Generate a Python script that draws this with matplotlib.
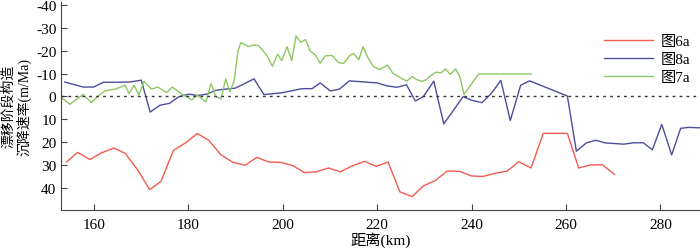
#!/usr/bin/env python3

# imports
import matplotlib
matplotlib.use('Agg')
import matplotlib.pyplot as plt

plt.rcParams['font.family'] = ['Liberation Serif', 'Noto Sans CJK SC']
plt.rcParams['axes.unicode_minus'] = False

# data (distance km, subsidence rate m/Ma)
x_6a = [154.2, 156.5, 159.1, 161.6, 164.2, 166.6, 169.3, 171.8, 174.2, 176.8,
        179.4, 181.9, 184.3, 186.9, 189.5, 192.0, 194.5, 197.0, 199.7, 202.1,
        204.6, 207.1, 209.7, 212.2, 214.7, 217.3, 219.8, 222.3, 224.8, 227.4,
        229.8, 232.3, 234.9, 237.5, 240.0, 242.4, 245.0, 247.5, 250.0, 252.6,
        255.2, 260.3, 262.7, 265.2, 267.7, 270.3]
y_6a = [28.6, 24.4, 27.5, 24.6, 22.5, 24.8, 32.2, 40.7, 37.0, 23.6,
        20.2, 16.2, 19.1, 25.5, 28.8, 30.0, 26.6, 28.6, 28.8, 30.2,
        33.2, 32.9, 31.2, 32.9, 30.3, 28.3, 30.5, 28.6, 41.6, 43.7,
        39.0, 36.7, 32.5, 32.7, 34.7, 34.9, 33.5, 32.6, 28.5, 31.2,
        16.1, 16.1, 31.2, 29.9, 29.8, 34.0]

x_8a = [153.8, 157.7, 159.9, 162.0, 165.5, 167.6, 170.0, 171.9, 174.0, 176.0,
        178.0, 180.1, 181.9, 183.9, 185.8, 187.8, 189.9, 191.9, 193.9, 196.0,
        199.8, 204.1, 206.2, 207.9, 210.1, 212.0, 214.1, 220.0, 222.1, 224.2,
        226.2, 228.1, 229.8, 232.0, 234.1, 238.2, 240.1, 242.2, 244.1, 246.2,
        248.2, 250.4, 252.3, 260.3, 262.2, 264.3, 266.3, 268.4, 272.3, 274.4,
        276.4, 278.3, 280.3, 282.4, 284.3, 286.0, 288.5]
y_8a = [-6.3, -4.1, -4.1, -6.2, -6.2, -6.3, -7.1, 6.8, 3.8, 3.0,
        0.1, -1.0, -0.4, -1.0, -2.7, -3.2, -3.6, -5.6, -7.7, -0.8,
        -1.6, -3.4, -3.4, -5.9, -2.4, -3.2, -6.8, -5.9, -4.6, -4.0,
        -5.1, 2.0, 0.0, -6.7, 12.0, 0.1, 1.7, 2.7, -1.1, -7.0,
        10.5, -4.9, -6.8, -0.2, 23.9, 20.3, 19.1, 20.3, 20.8, 20.2,
        20.2, 23.3, 12.2, 25.5, 13.9, 13.5, 13.7]

x_7a = [153.1, 154.9, 157.7, 159.4, 160.9, 162.3, 164.5, 166.6, 167.4, 168.5,
        169.5, 170.6, 172.2, 173.5, 175.4, 176.6, 178.6, 180.7, 181.8, 183.7,
        184.8, 185.8, 186.9, 187.9, 188.8, 189.7, 190.5, 191.1, 192.7, 193.9,
        194.9, 196.6, 197.8, 198.9, 199.8, 200.9, 201.9, 202.8, 203.8, 204.8,
        205.8, 206.9, 207.9, 209.0, 210.4, 211.8, 212.9, 214.1, 215.0, 216.1,
        217.0, 218.0, 219.2, 220.5, 222.2, 223.3, 224.2, 225.3, 226.3, 227.4,
        228.4, 229.5, 230.4, 231.4, 232.5, 233.5, 234.5, 235.5, 236.6, 237.5,
        238.4, 241.5, 252.6]
y_7a = [0.6, 3.4, -0.9, 2.7, -0.2, -2.4, -3.2, -4.9, -1.3, -4.9,
        -0.6, -6.6, -3.2, -4.1, -1.7, -4.1, -1.0, 1.5, -0.6, 2.3,
        -5.6, 0.1, 1.1, -7.7, -2.0, -7.0, -19.8, -23.5, -21.8, -22.5,
        -22.1, -18.0, -13.1, -18.4, -15.6, -21.7, -15.6, -26.4, -23.7, -24.8,
        -19.8, -18.1, -14.5, -17.7, -17.9, -14.8, -14.4, -17.7, -18.8, -16.0,
        -21.7, -17.0, -13.1, -11.7, -13.7, -10.1, -9.1, -7.7, -6.7, -8.7,
        -7.3, -6.6, -7.3, -9.1, -10.6, -10.3, -12.0, -9.6, -12.0, -8.8,
        -0.9, -9.8, -9.8]

yticks = [-40, -30, -20, -10, 0, 10, 20, 30, 40]
xticks = [160, 180, 200, 220, 240, 260, 280]

fig = plt.figure(figsize=(7.0, 2.51), dpi=100)
ax = fig.add_axes([0.0876, 0.1606, 0.9124, 0.8274])

ax.plot(x_6a, y_6a, color='#f25b4e', lw=1.0, label='图6a')
ax.plot(x_8a, y_8a, color='#4d4d9e', lw=1.0, label='图8a')
ax.plot(x_7a, y_7a, color='#8cc862', lw=1.0, label='图7a')

# zero line
ax.axhline(0, color='#333333', lw=1.0, ls=(0, (2, 3)))

ax.set_xlim(153.07, 288.4)
ax.set_ylim(49.4, -41.2)
ax.set_xticks(xticks)
ax.set_yticks(yticks)
ax.tick_params(direction='in', labelsize=11, length=4, color='#444444')
ax.tick_params(axis='x', pad=6)
for s in ['top', 'right']:
    ax.spines[s].set_visible(False)
for s in ['left', 'bottom']:
    ax.spines[s].set_color('#444444')

ax.set_xlabel('距离(km)', fontsize=11, labelpad=0)
ax.set_ylabel('漂移阶段构造\n沉降速率(m/Ma)', fontsize=10, labelpad=3, linespacing=1.1)

ax.legend(loc='upper left', bbox_to_anchor=(0.85, 0.845), frameon=False,
          fontsize=11, handlelength=3.2, labelspacing=0.3, handletextpad=0.5,
          borderaxespad=0, borderpad=0)

plt.savefig('out.png', dpi=100)
